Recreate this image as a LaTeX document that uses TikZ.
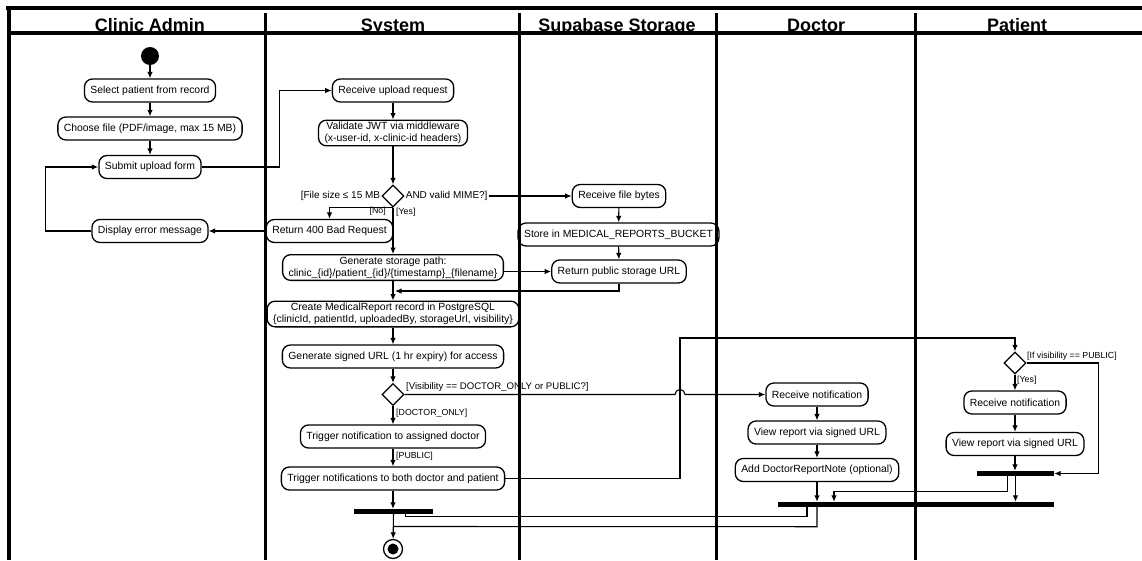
\documentclass[tikz,border=0pt]{standalone}
\usepackage{fontspec}
\setmainfont{Liberation Sans}
\usetikzlibrary{arrows.meta,shapes.geometric}
\begin{document}
\begin{tikzpicture}[x=1pt,y=-1pt]
   \tikzstyle{line} = [draw, line width=1.1pt, -{Latex[length=6.5pt,width=5.5pt]}]
   \tikzstyle{wire} = [draw, line width=1.1pt]
   \tikzstyle{act} = [draw, line width=1.3pt, rounded corners=8pt, align=center, inner xsep=6pt, inner ysep=2pt, minimum height=23pt, font=\fontsize{10.4}{12}\selectfont]
   \tikzstyle{choice} = [draw, diamond, line width=1.3pt, minimum width=22pt, minimum height=22pt, inner sep=0pt]
   \tikzstyle{bar} = [fill, inner sep=0pt, minimum height=5pt]
   \tikzstyle{guard} = [inner sep=1pt, font=\fontsize{8.8}{10}\selectfont]
   \tikzstyle{lane} = [anchor=base, inner sep=0pt, font=\fontsize{18}{20}\selectfont\bfseries]

   \useasboundingbox (0,0) rectangle (1142,560);

   \node [lane] (hadmin) at (150,31) {Clinic Admin};
   \node [lane] (hsys) at (393,31) {System};
   \node [lane] (hstore) at (617,31) {Supabase Storage};
   \node [lane] (hdoc) at (816,31) {Doctor};
   \node [lane] (hpat) at (1017,31) {Patient};

   \draw [line width=4pt] (6,7.5) -- (1142,7.5);
   \draw [line width=4.5pt] (9,33) -- (1142,33);
   \draw [line width=4pt] (9,5.5) -- (9,560);
   \draw [line width=3pt] (265,13) -- (265,560);
   \draw [line width=3pt] (519,13) -- (519,560);
   \draw [line width=3pt] (716,13) -- (716,560);
   \draw [line width=3pt] (915,13) -- (915,560);

   \node [circle, fill, minimum size=18pt, inner sep=0pt] (start) at (150,56) {};
   \node [act] (sel) at (150,90.5) {Select patient from record};
   \node [act] (choose) at (150,128.5) {Choose file (PDF/image, max 15 MB)};
   \node [act] (submit) at (150,167) {Submit upload form};
   \node [act] (err) at (150,231) {Display error message};

   \node [act] (recv) at (393,90.5) {Receive upload request};
   \node [act] (valid) at (393,133) {Validate JWT via middleware\\(x-user-id, x-clinic-id headers)};
   \node [choice] (d1) at (393,196) {};
   \node [act] (ret) at (329.5,231) {Return 400 Bad Request};
   \node [act] (gen) at (393,267.5) {Generate storage path:\\clinic\_\{id\}/patient\_\{id\}/\{timestamp\}\_\{filename\}};
   \node [act] (create) at (393,314) {Create MedicalReport record in PostgreSQL\\\{clinicId, patientId, uploadedBy, storageUrl, visibility\}};
   \node [act] (sign) at (393,356.5) {Generate signed URL (1 hr expiry) for access};
   \node [choice] (d2) at (393,394.5) {};
   \node [act] (trig1) at (393,436.5) {Trigger notification to assigned doctor};
   \node [act] (trig2) at (393,478.5) {Trigger notifications to both doctor and patient};
   \node [bar, minimum width=79pt] (bar1) at (393.5,511.5) {};
   \node [circle, draw, line width=1.3pt, minimum size=19pt, inner sep=0pt] (final) at (393,549) {};
   \node [circle, fill, minimum size=11pt, inner sep=0pt] (finaldot) at (final) {};

   \node [act] (bytes) at (619,196) {Receive file bytes};
   \node [act] (store) at (618.5,234.5) {Store in MEDICAL\_REPORTS\_BUCKET};
   \node [act] (url) at (619,271.5) {Return public storage URL};

   \node [act] (drecv) at (817,394.5) {Receive notification};
   \node [act] (dview) at (817,432.5) {View report via signed URL};
   \node [act] (dnote) at (817,470) {Add DoctorReportNote (optional)};
   \node [bar, minimum width=276pt] (bar2) at (916,504.5) {};

   \node [choice] (d3) at (1015,363) {};
   \node [act] (precv) at (1015,402.5) {Receive notification};
   \node [act] (pview) at (1015,444) {View report via signed URL};
   \node [bar, minimum width=77pt] (bar3) at (1015.5,473.5) {};

   \node [guard, anchor=east, font=\fontsize{10}{12}\selectfont] (sizel) at (d1.west) {[File size ≤ 15 MB};
   \node [guard, anchor=west, font=\fontsize{10}{12}\selectfont] (sizer) at (d1.east) {AND valid MIME?]};
   \node [guard, anchor=east] (no) at (387,211) {[No]};
   \node [guard, anchor=west] (yes) at (395,212) {[Yes]};
   \node [guard, anchor=west, font=\fontsize{9.6}{11}\selectfont] (vis) at (405,387) {[Visibility == DOCTOR\_ONLY or PUBLIC?]};
   \node [guard, anchor=west] (donly) at (395,413) {[DOCTOR\_ONLY]};
   \node [guard, anchor=west] (pub) at (395,456) {[PUBLIC]};
   \node [guard, anchor=west] (ifpub) at (1026,356) {[If visibility == PUBLIC]};
   \node [guard, anchor=west] (pyes) at (1016,380) {[Yes]};

   \coordinate (m1) at (395,291);
   \coordinate (hop) at (675,394.5);
   \coordinate (up) at (680,338);
   \coordinate (j2) at (393,526.5);

   \path [line] (start) -- (sel);
   \path [line] (sel) -- (choose);
   \path [line] (choose) -- (submit);
   \path [line] (submit.east) -- ++(78,0) |- (recv.west);
   \path [line] (err.west) -- ++(-46,0) |- (submit.west);

   \path [line] (recv) -- (valid);
   \path [line] (valid) -- (d1);
   \path [line] (d1.south) -| (ret.north);
   \path [line] (d1.south) -- (gen.north);
   \path [line] (ret.west) -- (err.east);
   \path [line] (sizer.east) -- (bytes.west);
   \path [line] (gen.east |- url.west) -- (url.west);
   \path [line] (url.south) |- (m1);
   \path [line] (gen) -- (create);
   \path [line] (create) -- (sign);
   \path [line] (sign) -- (d2);
   \path [line] (d2.east) -- (hop) arc (180:0:5pt) -- (drecv.west);
   \path [line] (d2) -- (trig1);
   \path [line] (trig1) -- (trig2);
   \path [line] (trig2.south) -- (trig2.south |- bar1.north);
   \path [line] (trig2.east) -| (up) -| (d3.north);
   \path [line] (bar1) -- (final);

   \path [line] (bytes) -- (store);
   \path [line] (store) -- (url);

   \path [line] (drecv) -- (dview);
   \path [line] (dview) -- (dnote);
   \path [line] (dnote.south) -- (dnote.south |- bar2.north);

   \path [line] (d3) -- (precv);
   \path [line] (precv) -- (pview);
   \path [line] (pview.south) -- (pview.south |- bar3.north);
   \path [line] (d3.east) -- ++(72,0) |- (bar3.east);
   \path [line] (bar3.south) -- (bar3.south |- bar2.north);
   \path [line] ([xshift=-8pt]bar3.south) -- ++(0,15) -| ([xshift=-82pt]bar2.north);

   \path [wire] ([xshift=12pt]bar1.south) -- ++(0,2.5) -| ([xshift=-109pt]bar2.south);
   \path [wire] ([xshift=-99pt]bar2.south) -- ++(0,19.5) -- (j2);
\end{tikzpicture}
\end{document}
